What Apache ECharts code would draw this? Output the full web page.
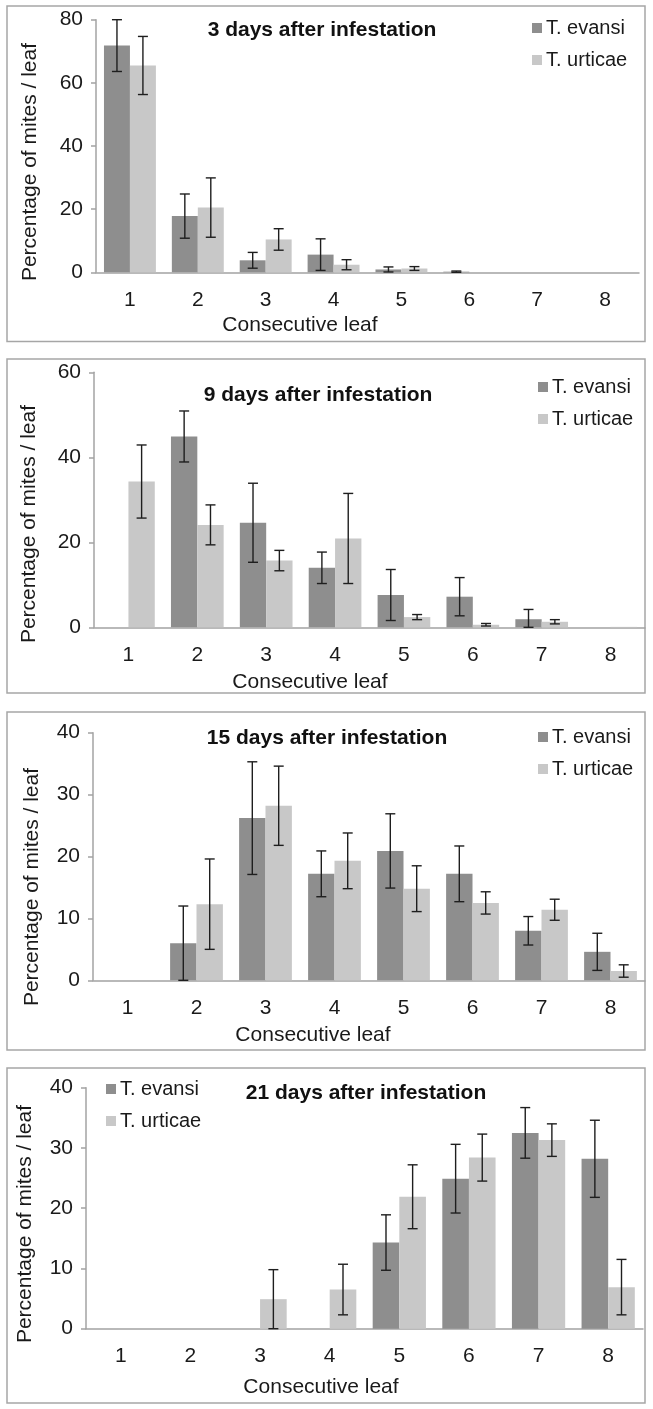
<!DOCTYPE html>
<html>
<head>
<meta charset="utf-8">
<script src="https://cdn.jsdelivr.net/npm/echarts@6/dist/echarts.min.js"></script>
<style>
html,body{margin:0;padding:0;background:#fff;}
#chart{width:653px;height:1409px;}
</style>
</head>
<body>
<div id="chart"></div>
<script>
// ---------- DATA ----------
const categories = ['1', '2', '3', '4', '5', '6', '7', '8'];
const seriesNames = ['T. evansi', 'T. urticae'];
const panelTitles = ['3 days after infestation', '9 days after infestation', '15 days after infestation', '21 days after infestation'];
const xAxisTitle = 'Consecutive leaf';
const yAxisTitle = 'Percentage of mites / leaf';
const yMaxTicks = [80, 60, 40, 40];
const yTickSteps = [20, 20, 10, 10];

// 3 days
const evansiDay3 = [71.8, 17.8, 3.8, 5.6, 0.9, 0.2, 0, 0];
const evansiDay3Err = [8.2, 7.0, 2.5, 5.0, 0.8, 0.2, 0, 0];
const urticaeDay3 = [65.5, 20.5, 10.4, 2.4, 1.2, 0, 0, 0];
const urticaeDay3Err = [9.2, 9.4, 3.4, 1.6, 0.6, 0, 0, 0];
// 9 days
const evansiDay9 = [0, 44.9, 24.6, 14.0, 7.6, 7.2, 1.9, 0];
const evansiDay9Err = [0, 6.0, 9.3, 3.7, 6.0, 4.5, 2.3, 0];
const urticaeDay9 = [34.3, 24.1, 15.7, 20.9, 2.4, 0.6, 1.3, 0.1];
const urticaeDay9Err = [8.6, 4.7, 2.4, 10.6, 0.6, 0.3, 0.5, 0];
// 15 days
const evansiDay15 = [0, 6.0, 26.2, 17.2, 20.9, 17.2, 8.0, 4.6];
const evansiDay15Err = [0, 6.0, 9.1, 3.7, 6.0, 4.5, 2.3, 3.0];
const urticaeDay15 = [0, 12.3, 28.2, 19.3, 14.8, 12.5, 11.4, 1.5];
const urticaeDay15Err = [0, 7.3, 6.4, 4.5, 3.7, 1.8, 1.7, 1.0];
// 21 days
const evansiDay21 = [0, 0, 0, 0, 14.3, 24.9, 32.5, 28.2];
const evansiDay21Err = [0, 0, 0, 0, 4.6, 5.7, 4.2, 6.4];
const urticaeDay21 = [0, 0, 4.9, 6.5, 21.9, 28.4, 31.3, 6.9];
const urticaeDay21Err = [0, 0, 4.9, 4.2, 5.3, 3.9, 2.7, 4.6];

// ---------- LAYOUT / STYLE ----------
const FONT = "'Liberation Sans', Arial, Helvetica, sans-serif";
const DARK = '#8e8e8e';
const LIGHT = '#c8c8c8';
const AXIS = '#a3a3a3';
const BORDER = '#a6a6a6';

const panels = [
  { ev: evansiDay3, evE: evansiDay3Err, ur: urticaeDay3, urE: urticaeDay3Err,
    grid: { left: 96, top: 19.7, width: 543, height: 252.6 },
    box: [7, 6, 638, 335.5], title: [322, 30], xName: [300, 325], yName: [30, 162],
    legend: { left: 532, top: 18 } },
  { ev: evansiDay9, evE: evansiDay9Err, ur: urticaeDay9, urE: urticaeDay9Err,
    grid: { left: 94, top: 372.3, width: 551, height: 255 },
    box: [7, 359, 638, 334], title: [318, 395], xName: [310, 682], yName: [29, 524],
    legend: { left: 538, top: 377 } },
  { ev: evansiDay15, evE: evansiDay15Err, ur: urticaeDay15, urE: urticaeDay15Err,
    grid: { left: 93, top: 732.7, width: 552, height: 247.6 },
    box: [7, 712, 638, 338], title: [327, 738], xName: [313, 1035], yName: [32, 887],
    legend: { left: 538, top: 727 } },
  { ev: evansiDay21, evE: evansiDay21Err, ur: urticaeDay21, urE: urticaeDay21Err,
    grid: { left: 86, top: 1087.7, width: 557, height: 241 },
    box: [7, 1068, 638, 335], title: [366, 1093], xName: [321, 1387], yName: [25, 1224],
    legend: { left: 106, top: 1079 } }
];

const BAR_FRAC = 0.3825; // each bar's share of the category band

function errData(vals, errs) {
  const out = [];
  vals.forEach((v, i) => {
    if (errs[i] > 0) out.push([i, Math.max(0, v - errs[i]), v + errs[i]]);
  });
  return out;
}

function errRender(side) {
  return function (params, api) {
    const idx = api.value(0);
    const lo = api.coord([idx, api.value(1)]);
    const hi = api.coord([idx, api.value(2)]);
    const w = api.size([1, 0])[0];
    const x = hi[0] + side * w * BAR_FRAC / 2;
    const cap = 5;
    const st = { stroke: '#1e1e1e', lineWidth: 1.4 };
    return {
      type: 'group',
      children: [
        { type: 'line', shape: { x1: x, y1: hi[1], x2: x, y2: lo[1] }, style: st },
        { type: 'line', shape: { x1: x - cap, y1: hi[1], x2: x + cap, y2: hi[1] }, style: st },
        { type: 'line', shape: { x1: x - cap, y1: lo[1], x2: x + cap, y2: lo[1] }, style: st }
      ]
    };
  };
}

const grid = [], xAxis = [], yAxis = [], series = [], legend = [], graphic = [];

panels.forEach((p, k) => {
  grid.push(Object.assign({ containLabel: false }, p.grid));
  xAxis.push({
    type: 'category', gridIndex: k, data: categories,
    axisLine: { show: true, lineStyle: { color: AXIS, width: 1.5 } },
    axisTick: { show: false },
    axisLabel: { fontFamily: FONT, fontSize: 21, color: '#1a1a1a', margin: 17 },
    splitLine: { show: false }
  });
  yAxis.push({
    type: 'value', gridIndex: k, min: 0, max: yMaxTicks[k], interval: yTickSteps[k],
    axisLine: { show: true, lineStyle: { color: AXIS, width: 1.5 } },
    axisTick: { show: true, length: 5, lineStyle: { color: AXIS, width: 1.5 } },
    axisLabel: { fontFamily: FONT, fontSize: 21, color: '#1a1a1a', margin: 13 },
    splitLine: { show: false }
  });
  series.push({
    name: seriesNames[0], type: 'bar', xAxisIndex: k, yAxisIndex: k,
    data: p.ev, itemStyle: { color: DARK },
    barGap: '0%', barCategoryGap: '23.5%', z: 2
  });
  series.push({
    name: seriesNames[1], type: 'bar', xAxisIndex: k, yAxisIndex: k,
    data: p.ur, itemStyle: { color: LIGHT },
    barGap: '0%', barCategoryGap: '23.5%', z: 2
  });
  series.push({
    name: 'err-ev-' + k, type: 'custom', xAxisIndex: k, yAxisIndex: k,
    renderItem: errRender(-1), data: errData(p.ev, p.evE),
    encode: { x: 0, y: [1, 2] }, z: 5, silent: true
  });
  series.push({
    name: 'err-ur-' + k, type: 'custom', xAxisIndex: k, yAxisIndex: k,
    renderItem: errRender(1), data: errData(p.ur, p.urE),
    encode: { x: 0, y: [1, 2] }, z: 5, silent: true
  });
  legend.push({
    data: seriesNames, orient: 'vertical', left: p.legend.left, top: p.legend.top,
    padding: 0, itemGap: 12, itemWidth: 10, itemHeight: 10, icon: 'rect',
    selectedMode: false,
    textStyle: { fontFamily: FONT, fontSize: 20, color: '#1a1a1a', padding: [0, 0, 0, -1] }
  });
  graphic.push({
    type: 'rect', silent: true, z: -1,
    shape: { x: p.box[0], y: p.box[1], width: p.box[2], height: p.box[3] },
    style: { fill: 'none', stroke: BORDER, lineWidth: 1.5 }
  });
  graphic.push({
    type: 'text', silent: true, x: p.title[0], y: p.title[1],
    style: { text: panelTitles[k], align: 'center', verticalAlign: 'middle',
      font: 'bold 21px ' + FONT, fill: '#111' }
  });
  graphic.push({
    type: 'text', silent: true, x: p.xName[0], y: p.xName[1],
    style: { text: xAxisTitle, align: 'center', verticalAlign: 'middle',
      font: '21px ' + FONT, fill: '#1a1a1a' }
  });
  graphic.push({
    type: 'text', silent: true, x: p.yName[0], y: p.yName[1], rotation: Math.PI / 2,
    style: { text: yAxisTitle, align: 'center', verticalAlign: 'middle',
      font: '21px ' + FONT, fill: '#1a1a1a' }
  });
});

const chart = echarts.init(document.getElementById('chart'), null, { renderer: 'canvas' });
chart.setOption({
  backgroundColor: '#ffffff',
  animation: false,
  grid, xAxis, yAxis, series, legend, graphic
});
</script>
</body>
</html>
